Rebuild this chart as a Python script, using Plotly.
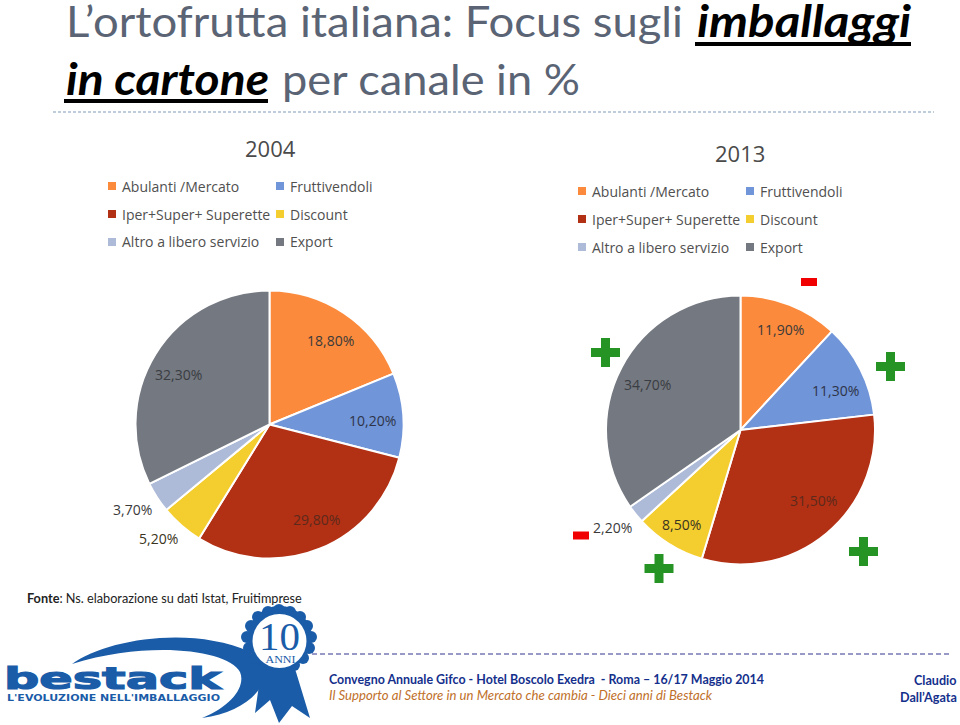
import json
import plotly.graph_objects as go

# dati
canali = ["Abulanti /Mercato", "Fruttivendoli", "Iper+Super+ Superette", "Discount", "Altro a libero servizio", "Export"]
valori_2004 = [18.8, 10.2, 29.8, 5.2, 3.7, 32.3]
valori_2013 = [11.9, 11.3, 31.5, 8.5, 2.2, 34.7]
colori = ["#FB8A3C", "#7095D8", "#B23014", "#F4CD2F", "#AEBBD8", "#747880"]

W = 960
H = 725


def px(x):
    return x / W


def py(y):
    return 1 - y / H


def etichetta(v):
    return f"{v:.2f}".replace(".", ",") + "%"


def dominio(cx, cy, r):
    return dict(x=[px(cx - r), px(cx + r)], y=[py(cy + r), py(cy - r)])


fig = go.Figure()
for nome, valori, dom in [("2004", valori_2004, dominio(269.5, 424.5, 134)), ("2013", valori_2013, dominio(740.5, 430, 134.5))]:
    fig.add_trace(go.Pie(
        labels=canali, values=valori, name=nome, sort=False, direction="clockwise", rotation=0,
        marker=dict(colors=colori, line=dict(color="white", width=2)),
        textinfo="none", hoverinfo="label+percent", showlegend=False, domain=dom,
    ))

annotazioni = []
forme = []
larghezze = {}  # testo -> larghezza in px, per stringere il Lato come il Calibri


def testo(x, y, t, size, color="#404040", font="Lato", xanchor="left", weight="normal", style="normal", largo=None):
    annotazioni.append(dict(x=px(x), y=py(y), xref="paper", yref="paper", text=t, showarrow=False,
                            xanchor=xanchor, yanchor="middle", align=xanchor, borderpad=0,
                            font=dict(size=size, color=color, family=font, weight=weight, style=style)))
    if largo:
        larghezze[t] = largo


def rett(x0, y0, x1, y1, colore):
    forme.append(dict(type="rect", xref="paper", yref="paper", x0=px(x0), x1=px(x1), y0=py(y1), y1=py(y0),
                      fillcolor=colore, line=dict(width=0)))


def linea(x0, x1, y, colore, w, dash="solid"):
    forme.append(dict(type="line", xref="paper", yref="paper", x0=px(x0), x1=px(x1), y0=py(y), y1=py(y),
                      line=dict(color=colore, width=w, dash=dash)))


# titolo
GRIGIO_T = "#5A6474"
testo(65, 20, "L’ortofrutta italiana: Focus sugli", 43, GRIGIO_T, largo=617)
testo(696, 20, "imballaggi", 43, "black", weight="bold", style="italic", largo=214)
testo(65, 78, "in cartone", 43, "black", weight="bold", style="italic", largo=203)
testo(281, 78, "per canale in %", 43, GRIGIO_T, largo=298)
linea(695, 911, 44, "black", 4)
linea(64, 268, 101, "black", 4)
linea(53, 934, 112, "#A9BCD0", 1.5, "3px,2px")

# anni
testo(270, 148, "2004", 22, "#4A4A4A", "Open Sans", "center")
testo(740, 153, "2013", 22, "#4A4A4A", "Open Sans", "center")

# legende
righe = [0, 0, 1, 1, 2, 2]
for ox, oy in [(0, 0), (470, 5)]:
    for i, riga in enumerate(righe):
        x = ox + (108 if i % 2 == 0 else 276)
        y = oy + 186 + riga * 28
        rett(x, y - 4, x + 8, y + 4, colori[i])
        testo(x + 13, y, canali[i], 14, "#505050", "Open Sans")

# etichette
pos_2004 = [(330, 340), (372, 420), (316, 519), (158, 538), (132, 509), (178, 374)]
pos_2013 = [(780, 329), (835, 390), (813, 500), (681, 524), (612, 527), (647, 385)]
colori_et = ["#3A3A3A", "#2E3448", "#5C2A1C", "#3A3420", "#3A3A3A", "#3A3D42"]
for valori, pos in [(valori_2004, pos_2004), (valori_2013, pos_2013)]:
    for v, (x, y), c in zip(valori, pos, colori_et):
        testo(x, y, etichetta(v), 14, c, "Open Sans", "center")

# segni + e -
VERDE = "#259425"
ROSSO = "#F00000"
for x, y in [(605.5, 352.5), (890.5, 366.5), (659, 568.5), (863.5, 551.5)]:
    rett(x - 14.5, y - 4.5, x + 14.5, y + 4.5, VERDE)
    rett(x - 4.5, y - 14.5, x + 4.5, y + 14.5, VERDE)
for x, y in [(809, 282), (581, 535.5)]:
    rett(x - 8, y - 4, x + 8, y + 4, ROSSO)

# fonte
testo(26, 598, "<b>Fonte</b>: Ns. elaborazione su dati Istat, Fruitimprese", 12.7, "#222222", "Lato")

# logo
BLU = "#1A5CA8"


def path(d):
    parti = []
    for tok in d.split():
        if "," in tok:
            a, b = tok.split(",")
            parti.append(f"{px(float(a))},{py(float(b))}")
        else:
            parti.append(tok)
    return " ".join(parti)


swoosh = "M 72,664 C 105,640 190,625 250,652 L 262,664 L 260,688 C 250,703 230,714 202,718 C 232,706 246,686 240,672 C 228,650 150,640 72,664 Z"
fiocco = "M 262,664 L 293,664 L 296,672 L 310,718 L 292,706 L 279,723 L 270,700 L 255,713 Z"
for d in [swoosh, fiocco]:
    forme.append(dict(type="path", xref="paper", yref="paper", path=path(d), fillcolor=BLU, line=dict(width=0)))


def cerchio(cx, cy, r, colore):
    forme.append(dict(type="circle", xref="paper", yref="paper", x0=px(cx - r), x1=px(cx + r), y0=py(cy + r), y1=py(cy - r),
                      fillcolor=colore, line=dict(width=0)))


# smerli della coccarda
smerli = [(279, 610), (290, 612), (300, 617), (307, 626), (311, 637), (309, 648), (303, 658), (294, 665),
          (264, 665), (255, 658), (249, 648), (247, 637), (251, 626), (258, 617), (268, 612)]
for x, y in smerli:
    cerchio(x, y, 6, BLU)
cerchio(279.5, 638, 32, BLU)
cerchio(279.5, 641, 27, "white")
testo(279.5, 636, "10", 41, BLU, "Liberation Serif", "center")
testo(280, 659, "ANNI", 10, BLU, "Liberation Serif", "center", largo=30)
testo(3, 678, "bestack", 31, BLU, "DejaVu Sans", weight="bold", largo=217)
testo(6, 697.5, "L'EVOLUZIONE NELL'IMBALLAGGIO", 8.7, BLU, "DejaVu Sans", weight="bold", largo=213)

# piede
linea(312, 952, 654, "#35358F", 1.2, "5px,3px")
NAVY = "#14308C"
testo(328, 679, "Convegno Annuale Gifco - Hotel Boscolo Exedra  - Roma – 16/17 Maggio 2014", 13.5, NAVY, weight="bold", largo=435)
testo(328, 695, "Il Supporto al Settore in un Mercato che cambia - Dieci anni di Bestack", 13.5, "#C0702A", style="italic", largo=383)
testo(958, 680, "Claudio", 12.6, NAVY, xanchor="right", weight="bold")
testo(958, 697, "Dall’Agata", 12.6, NAVY, xanchor="right", weight="bold")

fig.update_layout(width=W, height=H, margin=dict(l=0, r=0, t=0, b=0), paper_bgcolor="white",
                  annotations=annotazioni, shapes=forme)

post = """
document.body.style.margin='0';
var larg = %s;
document.querySelectorAll('.annotation-text').forEach(function(t){
  var w = larg[t.textContent];
  if(w){ t.setAttribute('textLength', w); t.setAttribute('lengthAdjust', 'spacingAndGlyphs'); }
  if(t.textContent === 'bestack'){ t.style.stroke = '%s'; t.style.strokeWidth = '1.2px'; }
});
""" % (json.dumps(larghezze, ensure_ascii=False), BLU)
fig.write_html("out.html", config=dict(displayModeBar=False), post_script=post)
